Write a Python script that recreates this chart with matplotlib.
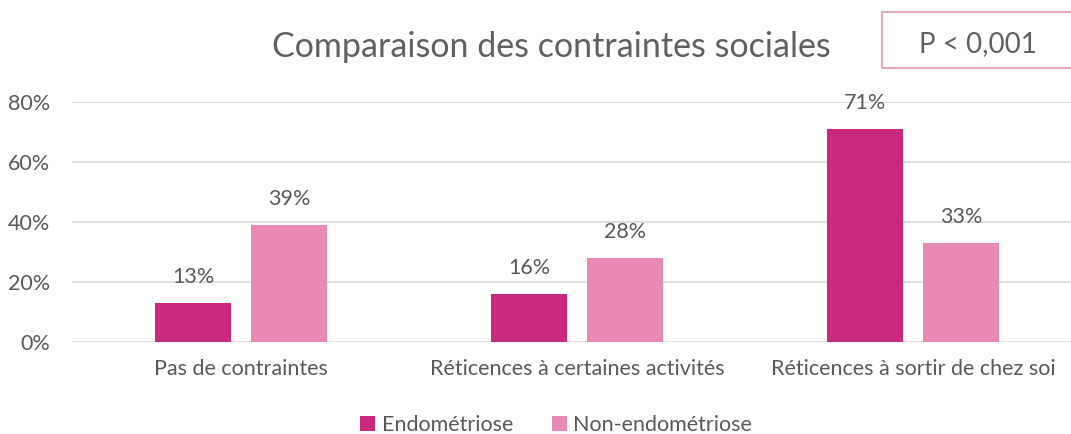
import matplotlib.pyplot as plt
from matplotlib.patches import Rectangle

categories = ['Pas de contraintes', 'Réticences à certaines activités', 'Réticences à sortir de chez soi']
endo = [13, 16, 71]
non_endo = [39, 28, 33]
series_names = ['Endométriose', 'Non-endométriose']
yticks = [0, 20, 40, 60, 80]

DARK = '#C9287F'
LIGHT = '#E98AB4'
TEXT = '#595959'
GRID = '#D9D9D9'
FS = 15.5

plt.rcParams['font.family'] = ['Lato', 'DejaVu Sans']

fig = plt.figure(figsize=(10.71, 4.34), dpi=100)
ax = fig.add_axes([72 / 1071, 1 - 342 / 434, 1 - 72 / 1071, 240 / 434])

x = list(range(len(categories)))
w = 0.226
off = 0.143
b1 = ax.bar([i - off for i in x], endo, w, color=DARK, label=series_names[0], zorder=3)
b2 = ax.bar([i + off for i in x], non_endo, w, color=LIGHT, label=series_names[1], zorder=3)

# value labels above each bar
for bars, vals in ((b1, endo), (b2, non_endo)):
    for r, v in zip(bars, vals):
        ax.annotate(f'{v}%', (r.get_x() + r.get_width() / 2, v), xytext=(0, 19),
                    textcoords='offset points', ha='center', va='center',
                    fontsize=FS, color=TEXT)

ax.set_xlim(-0.503, 2.47)
ax.set_ylim(0, 80)
ax.set_yticks(yticks)
ax.set_yticklabels([f'{t}%' for t in yticks])
ax.set_xticks(x)
ax.set_xticklabels(categories)
ax.tick_params(length=0, labelsize=FS, labelcolor=TEXT)
ax.tick_params(axis='x', pad=12)
ax.tick_params(axis='y', pad=16)
ax.grid(axis='y', color=GRID, linewidth=1.2, zorder=0)
ax.set_axisbelow(True)
for s in ax.spines.values():
    s.set_visible(False)

fig.text(551 / 1071, 1 - 47 / 434, 'Comparaison des contraintes sociales', ha='center', va='center',
         fontsize=24.5, color='#606060')

# p-value box
fig.patches.append(Rectangle((882 / 1071, 1 - 68 / 434), 200 / 1071, 56 / 434,
                             transform=fig.transFigure, fill=False, edgecolor='#E8A5BE',
                             linewidth=1.5))
fig.text(978 / 1071, 1 - 44 / 434, 'P < 0,001', ha='center', va='center', fontsize=20,
         color='#606060')

fig.legend(handles=[b1, b2], loc='center', bbox_to_anchor=(556 / 1071, 1 - 425 / 434), ncol=2,
           frameon=False, fontsize=FS, labelcolor=TEXT, handlelength=0.7, handleheight=0.7,
           handletextpad=0.3, columnspacing=1.8)

fig.savefig('out.png', dpi=100)
